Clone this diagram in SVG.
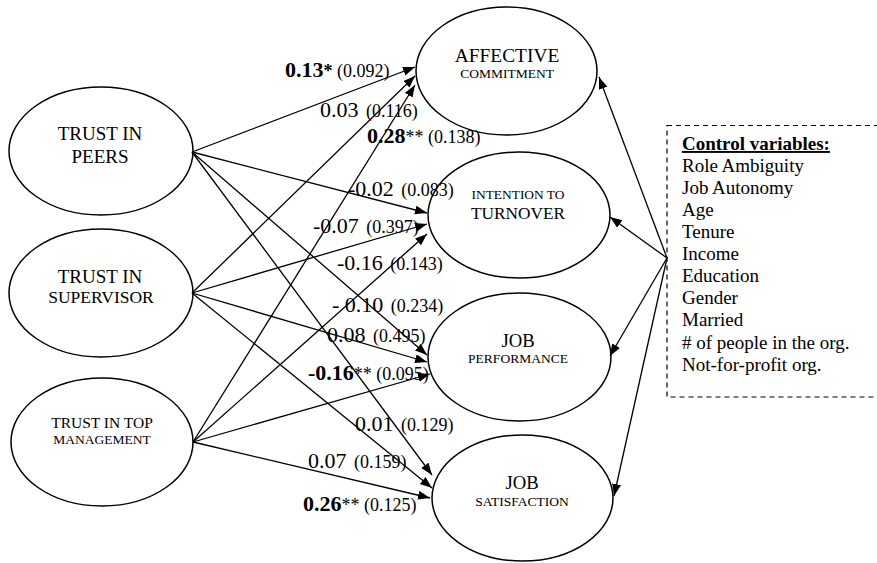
<svg xmlns="http://www.w3.org/2000/svg" width="877" height="563" viewBox="0 0 877 563">
<style>
text{font-family:"Liberation Serif","Times New Roman",serif;fill:#000}
.node ellipse{fill:#fff;stroke:#000;stroke-width:1.5}
.c{text-anchor:middle}
.conn line{stroke:#000;stroke-width:1.3;marker-end:url(#ah)}
.lab{font-size:22px}
.b{font-weight:bold}
.s{font-size:18px}
.ctl{font-size:19px}
</style>
<defs>
<marker id="ah" markerUnits="userSpaceOnUse" markerWidth="13" markerHeight="10" refX="12" refY="4.5" orient="auto">
<path d="M0,0 L12,4.5 L0,9 z" fill="#000"/>
</marker>
</defs>
<rect width="877" height="563" fill="#fff"/>
<g id="peers" class="node">
<ellipse cx="101" cy="151" rx="92" ry="64"/>
<text class="c" x="100" y="140" font-size="19">TRUST IN</text>
<text class="c" x="100" y="163" font-size="19">PEERS</text>
</g>
<g id="supervisor" class="node">
<ellipse cx="101" cy="293" rx="92" ry="64"/>
<text class="c" x="100" y="283" font-size="19">TRUST IN</text>
<text class="c" x="101" y="303" font-size="17.5">SUPERVISOR</text>
</g>
<g id="topmgmt" class="node">
<ellipse cx="102" cy="442" rx="91" ry="64"/>
<text class="c" x="102" y="428" font-size="15.5">TRUST IN TOP</text>
<text class="c" x="102" y="444" font-size="13.5">MANAGEMENT</text>
</g>
<g id="affective" class="node">
<ellipse cx="506.5" cy="71" rx="90.5" ry="64"/>
<text class="c" x="507" y="62" font-size="19.4">AFFECTIVE</text>
<text class="c" x="507" y="78" font-size="13.5">COMMITMENT</text>
</g>
<g id="turnover" class="node">
<ellipse cx="519" cy="215" rx="91" ry="63"/>
<text class="c" x="518" y="199" font-size="13.4">INTENTION TO</text>
<text class="c" x="518" y="219" font-size="17.3">TURNOVER</text>
</g>
<g id="performance" class="node">
<ellipse cx="519.5" cy="357" rx="91.5" ry="64"/>
<text class="c" x="518" y="347" font-size="18.7">JOB</text>
<text class="c" x="518" y="363" font-size="13.5">PERFORMANCE</text>
</g>
<g id="satisfaction" class="node">
<ellipse cx="522.5" cy="498" rx="90.5" ry="63"/>
<text class="c" x="522" y="489" font-size="18.7">JOB</text>
<text class="c" x="522" y="506" font-size="13.5">SATISFACTION</text>
</g>
<g id="controls">
<rect x="667" y="125.5" width="215" height="271.5" fill="none" stroke="#000" stroke-width="1.2" stroke-dasharray="5,4"/>
<text class="ctl b" x="682" y="150" text-decoration="underline">Control variables:</text>
<text class="ctl" x="682" y="172">Role Ambiguity</text>
<text class="ctl" x="682" y="194">Job Autonomy</text>
<text class="ctl" x="682" y="216">Age</text>
<text class="ctl" x="682" y="238">Tenure</text>
<text class="ctl" x="682" y="260">Income</text>
<text class="ctl" x="682" y="282">Education</text>
<text class="ctl" x="682" y="304">Gender</text>
<text class="ctl" x="682" y="326">Married</text>
<text class="ctl" x="682" y="349">
# of people in the org.</text>
<text class="ctl" x="682" y="371">Not-for-profit org.</text>
</g>
<g id="connectors" class="conn">
<line x1="192" y1="152" x2="415" y2="67"/>
<line x1="192" y1="152" x2="427" y2="213"/>
<line x1="192" y1="152" x2="427" y2="355"/>
<line x1="192" y1="152" x2="432" y2="475"/>
<line x1="192" y1="293" x2="415" y2="76"/>
<line x1="192" y1="293" x2="427" y2="224"/>
<line x1="192" y1="293" x2="427" y2="362"/>
<line x1="192" y1="293" x2="432" y2="488"/>
<line x1="193" y1="442" x2="415" y2="85"/>
<line x1="193" y1="442" x2="427" y2="234"/>
<line x1="193" y1="442" x2="430" y2="374"/>
<line x1="193" y1="442" x2="430" y2="498"/>
<line x1="667" y1="258" x2="599" y2="77"/>
<line x1="667" y1="258" x2="610" y2="217"/>
<line x1="667" y1="258" x2="610" y2="356"/>
<line x1="667" y1="258" x2="614" y2="496"/>
</g>
<g id="labels" class="lab">
<text x="285" y="77"><tspan class="b">0.13</tspan><tspan class="s b">*</tspan><tspan class="s"> (0.092)</tspan></text>
<text x="320" y="117">0.03<tspan class="s" dx="3"> (0.116)</tspan></text>
<text x="367" y="143"><tspan class="b">0.28</tspan><tspan class="s">**</tspan><tspan class="s"> (0.138)</tspan></text>
<text x="348" y="196">-0.02<tspan class="s" dx="3"> (0.083)</tspan></text>
<text x="313" y="233">-0.07<tspan class="s" dx="3"> (0.397)</tspan></text>
<text x="337" y="270">-0.16<tspan class="s" dx="3"> (0.143)</tspan></text>
<text x="332" y="312">- 0.10<tspan class="s" dx="3"> (0.234)</tspan></text>
<text x="327" y="342">0.08<tspan class="s" dx="3"> (0.495)</tspan></text>
<text x="308" y="380"><tspan class="b">-0.16</tspan><tspan class="s">**</tspan><tspan class="s"> (0.095)</tspan></text>
<text x="355" y="431">0.01<tspan class="s" dx="3"> (0.129)</tspan></text>
<text x="308" y="468">0.07<tspan class="s" dx="3"> (0.159)</tspan></text>
<text x="303" y="511"><tspan class="b">0.26</tspan><tspan class="s">**</tspan><tspan class="s"> (0.125)</tspan></text>
</g>
</svg>
